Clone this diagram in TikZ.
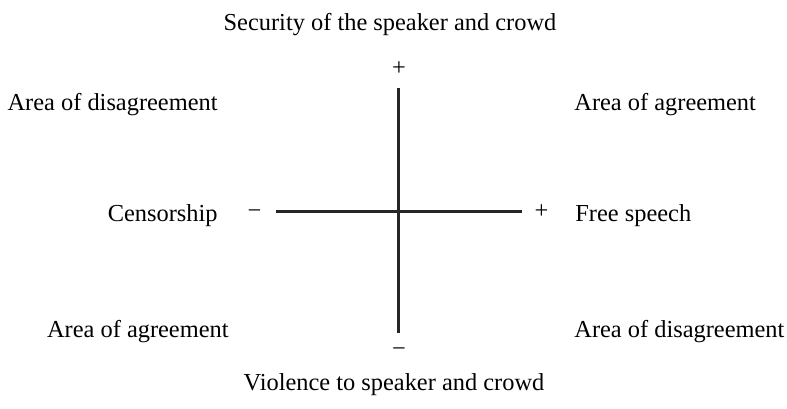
\documentclass[tikz,border=0pt]{standalone}
\usepackage{fontspec}
\setmainfont{Liberation Serif}
\begin{document}
\begin{tikzpicture}[x=0.5pt,y=-0.5pt,
    lbl/.style={inner sep=0pt,font=\fontsize{12.2}{14}\selectfont},
    sgn/.style={lbl,anchor=base},
    axis/.style={line width=1.5pt,color=black!85}]
 \useasboundingbox (0,0) rectangle (787,408);
 % axis end points
 \coordinate (xmin) at (276,211);
 \coordinate (xmax) at (522,211);
 \coordinate (ymax) at (398.5,88);
 \coordinate (ymin) at (398.5,333);
 \draw[axis] (xmin) -- (xmax) (ymax) -- (ymin);
 % signs at the ends
 \node[sgn] (mx) at (254.5,218) {−};
 \node[sgn] (px) at (541.5,218) {+};
 \node[sgn] (py) at (399,75) {+};
 \node[sgn] (my) at (399,356) {−};
 % axis names
 \node[lbl,anchor=base] (sec) at (390,30) {Security of the speaker and crowd};
 \node[lbl,anchor=base] (vio) at (394,390) {Violence to speaker and crowd};
 \node[lbl,anchor=base east] (cen) at (218,221) {Censorship};
 \node[lbl,anchor=base west] (fre) at (575,221) {Free speech};
 % quadrants
 \node[lbl,anchor=base east] (tl) at (218,110) {Area of disagreement};
 \node[lbl,anchor=base west] (tr) at (574,110) {Area of agreement};
 \node[lbl,anchor=base east] (bl) at (229,337) {Area of agreement};
 \node[lbl,anchor=base west] (br) at (574,337) {Area of disagreement};
\end{tikzpicture}
\end{document}
